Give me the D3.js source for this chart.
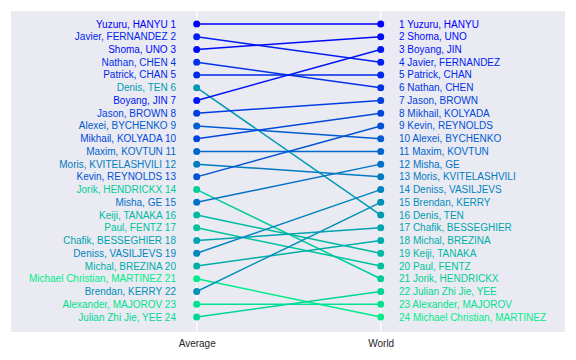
<!DOCTYPE html>
<html>
<head>
<meta charset="utf-8">
<script src="https://cdn.jsdelivr.net/npm/d3@7"></script>
<style>
  html, body { margin: 0; padding: 0; background: #ffffff; }
  svg { display: block; }
</style>
</head>
<body>
<svg id="chart" width="576" height="360"></svg>
<script>
// Skaters in order of their average rank (1..24)
const skaters = [
  "Yuzuru, HANYU", "Javier, FERNANDEZ", "Shoma, UNO", "Nathan, CHEN",
  "Patrick, CHAN", "Denis, TEN", "Boyang, JIN", "Jason, BROWN",
  "Alexei, BYCHENKO", "Mikhail, KOLYADA", "Maxim, KOVTUN", "Moris, KVITELASHVILI",
  "Kevin, REYNOLDS", "Jorik, HENDRICKX", "Misha, GE", "Keiji, TANAKA",
  "Paul, FENTZ", "Chafik, BESSEGHIER", "Deniss, VASILJEVS", "Michal, BREZINA",
  "Michael Christian, MARTINEZ", "Brendan, KERRY", "Alexander, MAJOROV", "Julian Zhi Jie, YEE"
];
const averageRank = [1,2,3,4,5,6,7,8,9,10,11,12,13,14,15,16,17,18,19,20,21,22,23,24];
const worldRank   = [1,4,2,6,5,16,3,7,10,8,11,13,9,21,12,19,20,17,14,18,24,15,23,22];
const axisLabels = ["Average", "World"];

const svg = d3.select("#chart");
const plot = { left: 11, top: 11, right: 565, bottom: 332 };

svg.append("rect")
  .attr("x", plot.left).attr("y", plot.top)
  .attr("width", plot.right - plot.left).attr("height", plot.bottom - plot.top)
  .attr("fill", "#eaeaf2");

const x = d3.scalePoint().domain(axisLabels).range([196.7, 380.7]);
const y = d3.scaleLinear().domain([1, 24]).range([24, 317]);
const color = d3.scaleLinear().domain([1, 24])
  .range(["rgb(0,0,255)", "rgb(0,236,138)"]).interpolate(d3.interpolateRgb);

// grid lines
svg.append("g").selectAll("line").data(axisLabels).join("line")
  .attr("x1", d => x(d)).attr("x2", d => x(d))
  .attr("y1", plot.top).attr("y2", plot.bottom)
  .attr("stroke", "#ffffff").attr("stroke-width", 1.2);

// axis labels
const xAxis = d3.axisBottom(x).tickSize(0).tickPadding(8);
const gx = svg.append("g").attr("transform", `translate(0,${plot.bottom})`).call(xAxis);
gx.select(".domain").remove();
gx.selectAll("text")
  .attr("font-family", "Liberation Sans, Arial, sans-serif")
  .attr("font-size", 10).attr("fill", "#262626");

const data = skaters.map((n, i) => ({ name: n, avg: averageRank[i], world: worldRank[i] }));

// lines
svg.append("g").selectAll("line").data(data).join("line")
  .attr("x1", x("Average")).attr("x2", x("World"))
  .attr("y1", d => y(d.avg)).attr("y2", d => y(d.world))
  .attr("stroke", d => color(d.world)).attr("stroke-width", 1.5);

// dots
const dots = svg.append("g");
dots.selectAll("circle.a").data(data).join("circle").attr("class", "a")
  .attr("cx", x("Average")).attr("cy", d => y(d.avg)).attr("r", 3.5)
  .attr("fill", d => color(d.world));
dots.selectAll("circle.w").data(data).join("circle").attr("class", "w")
  .attr("cx", x("World")).attr("cy", d => y(d.world)).attr("r", 3.5)
  .attr("fill", d => color(d.world));

// left labels
svg.append("g").selectAll("text").data(data).join("text")
  .attr("x", 176).attr("y", d => y(d.avg)).attr("dy", "0.35em")
  .attr("text-anchor", "end")
  .attr("font-family", "Liberation Sans, Arial, sans-serif").attr("font-size", 10)
  .attr("fill", d => color(d.world))
  .text(d => `${d.name} ${d.avg}`);

// right labels
svg.append("g").selectAll("text").data(data).join("text")
  .attr("x", 399).attr("y", d => y(d.world)).attr("dy", "0.35em")
  .attr("text-anchor", "start")
  .attr("font-family", "Liberation Sans, Arial, sans-serif").attr("font-size", 10)
  .attr("fill", d => color(d.world))
  .text(d => `${d.world} ${d.name}`);
</script>
</body>
</html>
